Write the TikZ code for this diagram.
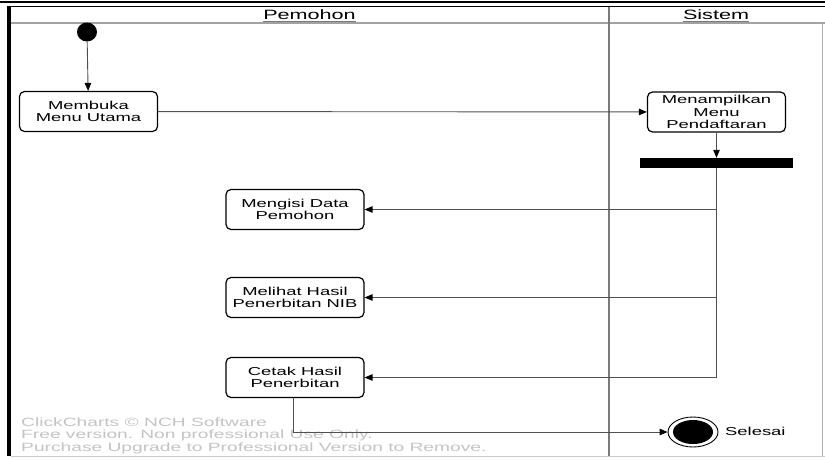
\documentclass[tikz,border=0pt]{standalone}
\usepackage{fontspec}
\setmainfont{Liberation Sans}[FakeStretch=1.6]
\usetikzlibrary{arrows.meta,shapes.geometric}
\definecolor{lanegray}{HTML}{7A7A7A}
\definecolor{linegray}{HTML}{505050}
\definecolor{wmgray}{HTML}{C4C4C4}
\tikzset{
  actbox/.style={draw=black, line width=1.2pt, rounded corners=5pt, fill=white,
    minimum width=138pt, minimum height=40pt, align=center, inner sep=1pt,
    font=\fontsize{11.5}{12.5}\selectfont},
  flow/.style={draw=linegray, line width=0.9pt, -{Triangle[length=8pt,width=6.5pt,color=black]}},
  plain/.style={draw=linegray, line width=0.9pt},
  hdr/.style={inner sep=0pt, font=\fontsize{13.5}{14}\selectfont},
  wm/.style={inner sep=0pt, anchor=west, text=wmgray, font=\fontsize{12}{13}\selectfont}
}
\begin{document}
\begin{tikzpicture}[x=1pt,y=-1pt]
\useasboundingbox (0,0) rectangle (825,459);
\fill[white] (0,0) rectangle (825,459);
% frame
\draw[black, line width=2pt] (0,2) -- (825,2);
\draw[black, line width=1.6pt] (10,6.5) -- (825,6.5);
\draw[black, line width=4pt] (9,6) -- (9,456);
\draw[lanegray!70, line width=2pt] (11,23) -- (825,23);
\draw[lanegray, line width=1.4pt] (609,7) -- (609,456);
\draw[lanegray!60, line width=1pt] (822,23) -- (822,456);
\draw[lanegray!40, line width=1pt] (11,456.5) -- (825,456.5);
% headers
\node[hdr] (hp) at (309.5,15) {Pemohon};
\node[hdr] (hs) at (716,15) {Sistem};
\draw[lanegray, line width=0.8pt] ([yshift=-1.5pt]hp.base west) -- ([yshift=-1.5pt]hp.base east);
\draw[lanegray, line width=0.8pt] ([yshift=-1.5pt]hs.base west) -- ([yshift=-1.5pt]hs.base east);
% watermark
\node[wm] (w1) at (21,422) {ClickCharts © NCH Software};
\node[wm] (w2) at (21,435) {Free version. Non professional Use Only.};
\node[wm] (w3) at (21,448) {Purchase Upgrade to Professional Version to Remove.};
% nodes
\node[ellipse, fill=black, minimum width=20pt, minimum height=19pt, inner sep=0pt] (start) at (87,32) {};
\node[actbox] (membuka) at (88.5,111.5) {Membuka\\Menu Utama};
\node[actbox] (menampilkan) at (716.5,112) {Menampilkan\\Menu\\Pendaftaran};
\node[fill=black, minimum width=153pt, minimum height=10pt, inner sep=0pt] (bar) at (716.5,163) {};
\node[actbox] (mengisi) at (295,209.5) {Mengisi Data\\Pemohon};
\node[actbox] (melihat) at (295,297.5) {Melihat Hasil\\Penerbitan NIB};
\node[actbox] (cetak) at (295,377.5) {Cetak Hasil\\Penerbitan};
\node[ellipse, draw=black, line width=0.9pt, minimum width=50pt, minimum height=30pt, inner sep=0pt] (endnode) at (693,432) {};
\node[ellipse, fill=black, minimum width=40pt, minimum height=24pt, inner sep=0pt] (endin) at (693,432) {};
\node[inner sep=0pt, anchor=west, font=\fontsize{11.5}{12.5}\selectfont] (selesai) at (725,431) {Selesai};
% connectors
\draw[flow] (start) -- (membuka);
\draw[flow] (membuka) -- (menampilkan);
\draw[flow] (menampilkan) -- (bar);
\draw[flow] (bar.south) |- (mengisi.east);
\draw[flow] (bar.south) |- (melihat.east);
\draw[flow] (bar.south) |- (cetak.east);
\draw[flow] ([xshift=-2pt]cetak.south) |- (endnode.west);
\end{tikzpicture}
\end{document}
